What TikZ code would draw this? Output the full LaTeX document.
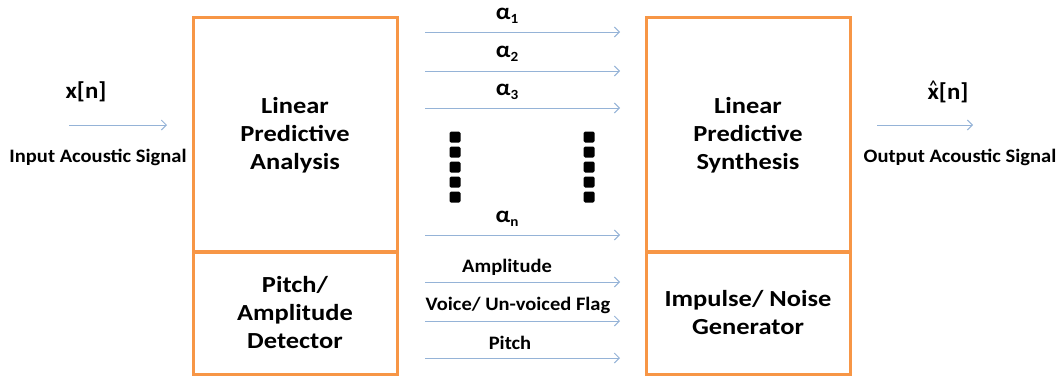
\documentclass[tikz,border=0pt]{standalone}
\usepackage{fontspec}
\setmainfont[FakeStretch=1.08]{Carlito}
\newfontfamily\boxfont[FakeStretch=1.15]{Carlito}
\usetikzlibrary{arrows.meta}
\definecolor{boxorange}{RGB}{247,150,70}
\definecolor{arrowblue}{RGB}{149,179,215}
\newcommand{\xhat}{\ooalign{x\cr\hidewidth\raisebox{9pt}{\fontsize{14}{14}\selectfont\textasciicircum}\hidewidth}}
\newcommand{\alsub}[1]{α\raisebox{-4pt}{\fontsize{14}{14}\selectfont #1}}
\begin{document}
\begin{tikzpicture}[x=1pt,y=-1pt,
  blk/.style={draw=boxorange,line width=3pt,minimum width=204pt,inner sep=0pt,align=center,
    font=\boxfont\fontsize{23}{28}\selectfont\bfseries},
  sig/.style={draw=arrowblue,line width=1pt,-{Straight Barb[length=5pt,width=10pt]}},
  lbl/.style={inner sep=0pt,font=\fontsize{19}{22}\selectfont\bfseries},
  alab/.style={inner sep=0pt,font=\fontsize{23}{25}\selectfont\bfseries},
  dot/.style={fill=black,rounded corners=1.5pt,minimum size=11pt,inner sep=0pt}]
\useasboundingbox (0,0) rectangle (1062,376);
% blocks
\node[blk,minimum height=235pt] (lpa) at (295,135) {Linear\\Predictive\\Analysis};
\node[blk,minimum height=123pt] (pad) at (295,312.5) {Pitch/\\Amplitude\\Detector};
\node[blk,minimum height=235pt] (lps) at (748,135) {Linear\\Predictive\\Synthesis};
\node[blk,minimum height=123pt] (ing) at (748,312.5) {Impulse/ Noise\\Generator};
% input
\coordinate (in1) at (69,125); \coordinate (in2) at (167,125);
\draw[sig] (in1) -- (in2);
\node[alab] (xn) at (86,92) {x[n]};
\node[lbl] (ias) at (98,157) {Input Acoustic Signal};
% output
\coordinate (out1) at (877,125); \coordinate (out2) at (973,125);
\draw[sig] (out1) -- (out2);
\node[alab,anchor=base] (xhn) at (948,99) {\xhat[n]};
\node[lbl] (oas) at (960,157) {Output Acoustic Signal};
% parameter arrows
\foreach \n/\y in {a1/32,a2/71,a3/108,an/235,amp/282,voi/321,pit/358}{
  \coordinate (\n s) at (425,\y); \coordinate (\n e) at (620,\y);
  \draw[sig] (\n s) -- (\n e);
}
\node[alab] (la1) at (507,16) {\alsub{1}};
\node[alab] (la2) at (507,54) {\alsub{2}};
\node[alab] (la3) at (507,92) {\alsub{3}};
\node[alab] (lan) at (507,219) {\alsub{n}};
\node[lbl] (lamp) at (507,267) {Amplitude};
\node[lbl] (lvoi) at (518,305) {Voice/ Un-voiced Flag};
\node[lbl] (lpit) at (510,343) {Pitch};
% dots
\foreach \y [count=\i] in {137,152,167,182,197}{
  \node[dot] (dl\i) at (455,\y) {};
  \node[dot] (dr\i) at (589,\y) {};
}
\end{tikzpicture}
\end{document}
